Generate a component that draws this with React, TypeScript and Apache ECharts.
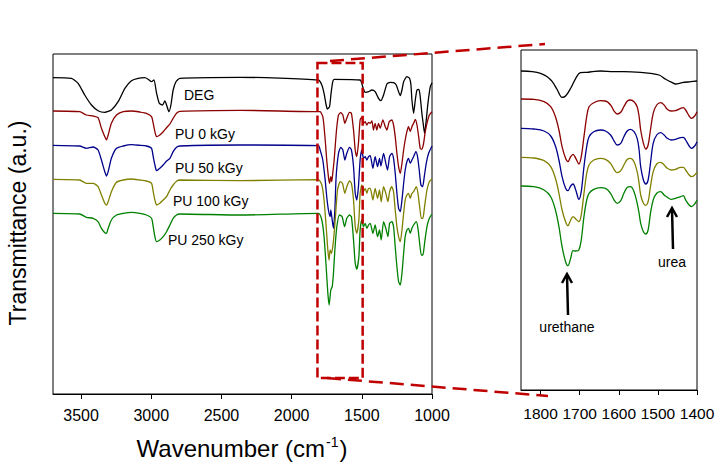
import React, { useEffect, useRef } from 'react';
import * as echarts from 'echarts';

const FONT = 'Arial, "Liberation Sans", Helvetica, sans-serif';

// ---- tick labels ----
const mainTicks = [1000, 1500, 2000, 2500, 3000, 3500];
const zoomTicks = [1400, 1500, 1600, 1700, 1800];

// ---- series ----
const seriesNames = ['DEG', 'PU 0 kGy', 'PU 50 kGy', 'PU 100 kGy', 'PU 250 kGy'];
const seriesColors = ['#000000', '#8b0000', '#00008b', '#808000', '#008000'];

// Full spectra (wavenumber cm-1, transmittance a.u., curves offset vertically)
const degMain = [
  [3700, 316.3], [3569, 315.7], [3521, 310.7], [3474, 299], [3426, 289], [3379, 283.3], [3331, 281.7],
  [3284, 284], [3236, 292.3], [3188, 305.7], [3141, 313.3], [3093, 315.7], [3046, 316.3], [3022, 314.7],
  [2998, 312.3], [2981, 314], [2962, 300.7], [2943, 290.7], [2920, 289], [2903, 293], [2891, 289],
  [2874, 282.3], [2860, 289], [2844, 304], [2824, 312.3], [2796, 315.7], [2368, 316.7], [1809, 314],
  [1785, 309], [1769, 300.7], [1754, 289], [1745, 285], [1730, 287.3], [1719, 300.7], [1707, 312.3],
  [1697, 314.7], [1512, 314], [1493, 307], [1476, 301.7], [1452, 302.3], [1428, 304], [1405, 302.3],
  [1381, 295.7], [1364, 293.3], [1345, 299], [1321, 310], [1298, 311.7], [1274, 311.3], [1255, 309],
  [1238, 302.3], [1226, 298.3], [1214, 304], [1202, 312.3], [1179, 317.3], [1160, 315.7], [1150, 309],
  [1143, 294], [1131, 280.7], [1119, 294], [1107, 304], [1093, 304.7], [1084, 297.3], [1072, 280.7],
  [1060, 267.3], [1053, 260.7], [1041, 274], [1029, 290.7], [1012, 307.3], [1000, 311.3],
];

const pu0Main = [
  [3700, 283], [3510, 282.3], [3462, 279], [3414, 278], [3379, 276.3], [3355, 265.7], [3331, 257.3],
  [3319, 254], [3307, 259], [3284, 270.7], [3248, 279], [3200, 282.3], [3141, 283], [3081, 282],
  [3034, 280.7], [2998, 277.3], [2986, 270.7], [2974, 262.3], [2962, 257.3], [2939, 259], [2915, 262.3],
  [2891, 266.3], [2867, 270], [2844, 275.7], [2820, 280.7], [2796, 282.7], [2368, 283.7],
  [1809, 282.3], [1797, 282.3], [1778, 277.3], [1769, 267.3], [1759, 250.7], [1750, 234], [1738, 217.3],
  [1730, 210.7], [1721, 217.3], [1714, 212.3], [1707, 220.7], [1697, 234], [1688, 250.7], [1678, 267.3],
  [1666, 279], [1650, 281.3], [1635, 279], [1621, 270.7], [1607, 275.7], [1588, 281.7], [1574, 280.7],
  [1559, 264], [1547, 244], [1536, 237.3], [1524, 250.7], [1512, 274], [1500, 276.7],
  [1488, 270.7], [1476, 272.3], [1464, 269], [1452, 271.7], [1440, 270.7], [1428, 273], [1417, 264],
  [1405, 270.7], [1393, 264], [1381, 270.7], [1369, 265.7], [1350, 274], [1333, 267.3], [1321, 264],
  [1305, 272.3], [1286, 274], [1274, 269], [1262, 257.3], [1250, 240.7], [1238, 227.3], [1226, 220.7],
  [1214, 230.7], [1202, 244], [1191, 254], [1179, 262.3], [1167, 267.3], [1155, 262.3], [1143, 267.3],
  [1131, 270.7], [1119, 274.7], [1107, 269], [1095, 257.3], [1084, 245.7], [1072, 244.7], [1060, 250.7],
  [1048, 262.3], [1036, 270.7], [1019, 279], [1000, 282.3],
];

const pu50Main = [
  [3700, 248.7], [3510, 248], [3462, 245.7], [3414, 247], [3379, 244], [3355, 234], [3331, 222.3],
  [3319, 218], [3307, 222.3], [3284, 235.7], [3248, 245.7], [3200, 248], [3141, 249.3], [3081, 248.7],
  [3034, 248], [2998, 245.7], [2986, 237.3], [2974, 229], [2962, 223.3], [2939, 225.7], [2915, 229],
  [2891, 233], [2867, 235.7], [2844, 242.3], [2820, 246.7], [2796, 248], [2368, 249], [1809, 248.3],
  [1797, 244], [1778, 234], [1761, 214], [1750, 197.3], [1738, 184], [1726, 177.3], [1721, 184],
  [1711, 174], [1702, 165.7], [1692, 184], [1683, 217.3], [1666, 240.7], [1650, 246.7], [1635, 244],
  [1621, 234], [1607, 240.7], [1588, 246.7], [1574, 244], [1559, 227.3], [1547, 200.7], [1536, 194],
  [1524, 207.3], [1512, 234], [1500, 244],
  [1488, 235.7], [1476, 237.3], [1464, 234], [1452, 237.3], [1440, 238.3], [1421, 225.7], [1405, 237.3],
  [1388, 227.3], [1374, 235.7], [1364, 228], [1345, 240.7], [1329, 230.7], [1317, 224], [1302, 237.3],
  [1286, 240.7], [1274, 235.7], [1262, 220.7], [1250, 200.7], [1238, 185.7], [1226, 182.3], [1214, 194],
  [1202, 210.7], [1191, 224], [1179, 232.3], [1167, 235.7], [1155, 230.7], [1143, 234], [1131, 237.3],
  [1115, 242.3], [1103, 237.3], [1091, 224], [1079, 209], [1067, 207.3], [1055, 217.3], [1041, 230.7],
  [1024, 240.7], [1000, 248],
];

const pu100Main = [
  [3700, 214.7], [3510, 214], [3462, 210.7], [3414, 210.7], [3379, 207.3], [3355, 199], [3331, 190.7],
  [3319, 189], [3307, 192.3], [3284, 202.3], [3248, 211.7], [3200, 214], [3141, 215], [3081, 214],
  [3034, 213], [2998, 210.7], [2986, 202.3], [2974, 194], [2962, 189], [2939, 190.7], [2915, 194],
  [2891, 197.3], [2867, 204], [2844, 209], [2820, 212.7], [2796, 214], [2368, 213.3], [1809, 214.3],
  [1785, 209], [1769, 194], [1754, 167.3], [1742, 144], [1733, 134], [1726, 144], [1716, 140.7],
  [1707, 147.3], [1697, 160.7], [1688, 177.3], [1673, 204], [1654, 212.3], [1638, 210.7], [1621, 200.7],
  [1607, 207.3], [1588, 213], [1574, 210.7], [1559, 194], [1547, 167.3], [1536, 160.7], [1521, 174],
  [1512, 200.7], [1500, 209],
  [1488, 202.3], [1476, 205.7], [1464, 200.7], [1452, 205.7], [1440, 205.7], [1421, 194], [1405, 205.7],
  [1388, 195.7], [1374, 204], [1362, 192.3], [1345, 207.3], [1329, 200.7], [1314, 192.3], [1302, 202.3],
  [1286, 207.3], [1274, 202.3], [1262, 184], [1250, 167.3], [1238, 157.3], [1226, 152.3], [1214, 164],
  [1202, 180.7], [1191, 194], [1179, 199], [1167, 200.7], [1155, 195.7], [1143, 200.7], [1131, 202.3],
  [1112, 207.3], [1100, 200.7], [1088, 187.3], [1076, 175.7], [1065, 175.7], [1053, 187.3], [1036, 204],
  [1019, 212.3], [1000, 215],
];

const pu250Main = [
  [3700, 180.7], [3510, 180], [3462, 176.7], [3414, 175.7], [3379, 172.3], [3355, 165.7], [3331, 161.3],
  [3319, 160.7], [3307, 165.7], [3284, 174], [3248, 179], [3200, 180.7], [3141, 181.7], [3081, 180.7],
  [3034, 179], [2998, 175.7], [2986, 167.3], [2974, 157.3], [2962, 152.3], [2939, 154], [2915, 157.3],
  [2891, 162.3], [2867, 169], [2844, 175.7], [2820, 179], [2796, 180], [2368, 179], [1809, 180.7],
  [1785, 174], [1769, 157.3], [1754, 127.3], [1742, 100.7], [1733, 89], [1721, 104], [1711, 107.3],
  [1702, 120.7], [1692, 144], [1678, 167.3], [1659, 179], [1640, 177.3], [1623, 167.3], [1607, 175.7],
  [1588, 179], [1574, 177.3], [1559, 154], [1547, 130.7], [1536, 124.7], [1521, 137.3], [1512, 164],
  [1500, 174],
  [1488, 167.3], [1476, 170.7], [1464, 165.7], [1452, 169], [1440, 170.7], [1421, 160.7], [1405, 169],
  [1388, 157.3], [1374, 164], [1362, 154], [1345, 172.3], [1329, 165.7], [1314, 157.3], [1302, 170.7],
  [1286, 172.3], [1274, 167.3], [1262, 147.3], [1250, 127.3], [1238, 112.3], [1226, 109], [1214, 120.7],
  [1202, 140.7], [1191, 157.3], [1179, 164], [1167, 165.7], [1155, 160.7], [1143, 165.7], [1131, 169],
  [1112, 172.3], [1100, 165.7], [1088, 150.7], [1076, 139], [1065, 139], [1053, 150.7], [1036, 167.3],
  [1019, 175.7], [1000, 180],
];

// Expanded 1850-1400 cm-1 region
const degZoom = [
  [1850, 319], [1821, 318.3], [1800, 316.7], [1783, 313.3], [1770, 308.3], [1757, 300], [1745, 292.7],
  [1736, 294], [1723, 301.7], [1710, 311.7], [1698, 317.3], [1681, 317.7], [1668, 318.3], [1647, 319],
  [1612, 318.3], [1587, 318.3], [1544, 317.7], [1519, 316.7], [1497, 315], [1480, 310.7], [1463, 307.3],
  [1455, 306], [1438, 307.3], [1416, 308.3], [1400, 309],
];

const zoomWn = [
  1850, 1817, 1791, 1774, 1762, 1753, 1745, 1736, 1730, 1723, 1717, 1710, 1702, 1696, 1689, 1682, 1676,
  1664, 1647, 1634, 1621, 1611, 1604, 1595, 1587, 1578, 1570, 1561, 1553, 1548, 1544, 1537, 1531, 1525,
  1519, 1512, 1503, 1493, 1484, 1476, 1466, 1455, 1442, 1435, 1429, 1420, 1414, 1406, 1400,
];
const pu0Zoom = [
  291, 290.7, 288.3, 283.3, 273.3, 260, 243.3, 231.7, 228.3, 233.3, 235.7, 231.7, 226, 233.3, 253.3, 273.3,
  283.3, 287.3, 289.3, 289, 285, 278.3, 276, 277.7, 283.3, 289, 290, 288.3, 283.3, 273.3, 260, 246.7, 241,
  245, 260, 276.7, 285, 287.3, 285, 280.7, 279, 279.3, 281.7, 282.3, 280, 274, 271.7, 274, 278.3,
];
const pu50Zoom = [
  261.7, 261, 259, 254, 244, 230, 213.3, 201.7, 199.3, 204, 206, 200, 190.7, 198.3, 223.3, 243.3, 253.3,
  258.3, 260, 259, 255, 248.3, 245, 246.7, 253.3, 259.3, 260.7, 258.3, 251.7, 240, 223.3, 210, 206, 210,
  226.7, 246.7, 255, 257.3, 255, 251.7, 250, 250.7, 252.3, 252.7, 250, 244, 241.7, 244, 248.3,
];
const pu100Zoom = [
  232.7, 232, 229.3, 223.3, 211.7, 196.7, 180, 168.3, 164.3, 170, 173.3, 171, 168.3, 175, 196.7, 216.7,
  225, 230, 231.7, 230.7, 226.7, 220, 217.3, 219.3, 225, 230.7, 231.7, 228.3, 218.3, 206.7, 195, 186.7,
  184.7, 188.3, 203.3, 218.3, 226, 227.7, 225, 221.7, 220, 220.7, 222.7, 222.7, 220, 215, 213.3, 215, 218.3,
];
const pu250Zoom = [
  204, 203.3, 200, 193.3, 180, 163.3, 143.3, 128.3, 124.3, 131.7, 139.3, 139, 140, 150, 173.3, 190, 196.7,
  200.7, 202.3, 201.7, 196.7, 189.3, 186.7, 189.3, 196.7, 202.7, 203.3, 198.3, 186.7, 176.7, 166.7, 158.3,
  156, 160, 176.7, 190, 196.7, 198.3, 195, 192.7, 190.7, 191.7, 193.3, 194.3, 190, 185, 183.3, 186, 190,
];

// zoomed window marked on the full spectrum (cm-1, a.u.)
const zoomWindow = { wnHigh: 1816, wnLow: 1494, tLow: 16, tHigh: 331 };

const zipZoom = (vals: number[]) => zoomWn.map((w, i) => [w, vals[i]]);

export default function App() {
  const ref = useRef<HTMLDivElement>(null);

  useEffect(() => {
    const chart = echarts.init(ref.current as HTMLDivElement, null, { renderer: 'svg' });

    const xAxis = (gridIndex: number, min: number, max: number, interval: number, ticks: number[], fontSize: number, margin: number) => ({
      type: 'value',
      gridIndex,
      min,
      max,
      interval,
      inverse: true,
      axisLine: { show: true, onZero: false, lineStyle: { color: '#000', width: 1 } },
      axisTick: { show: true, inside: false, length: 5, customValues: ticks, lineStyle: { color: '#000', width: 1 } },
      axisLabel: {
        show: true,
        customValues: ticks,
        formatter: (v: number) => String(v),
        color: '#000',
        fontSize,
        fontFamily: FONT,
        margin,
      },
      splitLine: { show: false },
    });
    const yAxis = (gridIndex: number) => ({
      type: 'value',
      gridIndex,
      min: 0,
      max: 340,
      show: false,
      splitLine: { show: false },
    });

    const mainData = [degMain, pu0Main, pu50Main, pu100Main, pu250Main];
    const zoomData = [degZoom, zipZoom(pu0Zoom), zipZoom(pu50Zoom), zipZoom(pu100Zoom), zipZoom(pu250Zoom)];

    const lineSeries = (data: number[][], i: number, axis: number) => ({
      type: 'line',
      name: seriesNames[i] + (axis ? ' (zoom)' : ''),
      xAxisIndex: axis,
      yAxisIndex: axis,
      data,
      showSymbol: false,
      smooth: axis ? 0.35 : 0.2,
      lineStyle: { color: seriesColors[i], width: 1.3 },
      itemStyle: { color: seriesColors[i] },
      clip: true,
      silent: true,
    });

    chart.setOption({
      animation: false,
      backgroundColor: '#ffffff',
      grid: [
        { left: 53, top: 54, width: 379, height: 340, show: true, borderColor: '#000', borderWidth: 1, backgroundColor: 'transparent', containLabel: false, outerBoundsMode: 'none' },
        { left: 521, top: 50, width: 176, height: 340, show: true, borderColor: '#000', borderWidth: 1, backgroundColor: 'transparent', containLabel: false, outerBoundsMode: 'none' },
      ],
      xAxis: [xAxis(0, 1000, 3700, 500, mainTicks, 16, 13), xAxis(1, 1400, 1850, 100, zoomTicks, 15.5, 15)],
      yAxis: [yAxis(0), yAxis(1)],
      series: [
        ...mainData.map((d, i) => lineSeries(d, i, 0)),
        ...zoomData.map((d, i) => lineSeries(d, i, 1)),
      ],
    });

    const p = (g: number, wn: number, t: number) => chart.convertToPixel({ gridIndex: g } as any, [wn, t]) as number[];
    const a = p(0, zoomWindow.wnHigh, zoomWindow.tHigh);
    const b = p(0, zoomWindow.wnLow, zoomWindow.tLow);

    const red = '#c00000';
    const txt = (text: string, x: number, y: number, fontSize: number, align: string) => ({
      type: 'text',
      x,
      y,
      z: 120,
      silent: true,
      style: { text, fill: '#000', fontSize, fontFamily: FONT, align, verticalAlign: 'middle', textAlign: align, textVerticalAlign: 'middle' },
    });
    const arrow = (x: number, yTip: number, yTail: number) => ({
      type: 'group',
      z: 120,
      silent: true,
      children: [
        { type: 'line', shape: { x1: x + 1, y1: yTail, x2: x, y2: yTip + 1 }, style: { stroke: '#000', lineWidth: 2.5 } },
        { type: 'polyline', shape: { points: [[x - 5, yTip + 9], [x, yTip], [x + 5, yTip + 9]] }, style: { stroke: '#000', lineWidth: 2.5, fill: 'none' } },
      ],
    });

    chart.setOption({
      graphic: [
        {
          type: 'rect',
          z: 110,
          silent: true,
          shape: { x: a[0], y: a[1], width: b[0] - a[0], height: b[1] - a[1] },
          style: { fill: 'none', stroke: red, lineWidth: 2.5, lineDash: [10, 4] },
        },
        { type: 'line', z: 110, silent: true, shape: { x1: 330, y1: 61, x2: 545, y2: 44 }, style: { stroke: red, lineWidth: 2.5, lineDash: [14, 7] } },
        { type: 'line', z: 110, silent: true, shape: { x1: 327, y1: 378, x2: 548, y2: 396 }, style: { stroke: red, lineWidth: 2.5, lineDash: [14, 7] } },
        txt('DEG', 184, 95, 14, 'left'),
        txt('PU 0 kGy', 175, 134, 14, 'left'),
        txt('PU 50 kGy', 175, 168, 14, 'left'),
        txt('PU 100 kGy', 173, 201, 14, 'left'),
        txt('PU 250 kGy', 168, 240, 14, 'left'),
        txt('urea', 672, 262, 14, 'center'),
        txt('urethane', 567, 327, 14, 'center'),
        arrow(672, 208, 249),
        arrow(567, 274, 315),
        {
          type: 'text',
          x: 18,
          y: 223,
          rotation: Math.PI / 2,
          z: 120,
          silent: true,
          style: { text: 'Transmittance (a.u.)', fill: '#000', fontSize: 23, fontFamily: FONT, align: 'center', verticalAlign: 'middle', textAlign: 'center', textVerticalAlign: 'middle' },
        },
        {
          type: 'text',
          x: 242,
          y: 448,
          z: 120,
          silent: true,
          style: {
            text: '{a|Wavenumber (cm}{s|-1}{a|)}',
            fill: '#000',
            align: 'center',
            verticalAlign: 'middle',
            textAlign: 'center',
            textVerticalAlign: 'middle',
            rich: {
              a: { fontSize: 24, fontFamily: FONT, fill: '#000', lineHeight: 26 },
              s: { fontSize: 14, fontFamily: FONT, fill: '#000', verticalAlign: 'top', lineHeight: 26, padding: [0, 1, 0, 1] },
            },
          },
        },
      ],
    });

    return () => chart.dispose();
  }, []);

  return (
    <div
      ref={ref}
      style={{ position: 'fixed', left: 0, top: 0, width: 722, height: 465, background: '#ffffff' }}
    />
  );
}
